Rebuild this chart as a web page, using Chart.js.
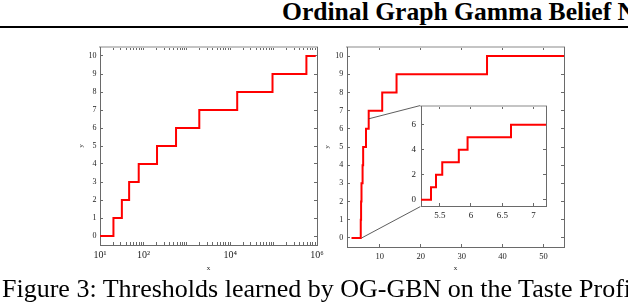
<!DOCTYPE html>
<html>
<head>
<meta charset="utf-8">
<script src="https://cdn.jsdelivr.net/npm/chart.js@4.4.1/dist/chart.umd.min.js"></script>
<style>
  html, body { margin:0; padding:0; background:#fff; }
  body { width:628px; height:304px; position:relative; overflow:hidden; font-family:"Liberation Serif", "Times New Roman", serif; }
  .abs { position:absolute; }
  #header { left:282px; top:-0.7px; font-weight:bold; font-size:25.6px; line-height:1; white-space:nowrap; color:#000; }
  #rule { left:0; top:26px; width:628px; height:2px; background:#000; }
  #caption { left:2px; top:275.5px; font-size:26px; line-height:1; white-space:nowrap; color:#000; }
  canvas { position:absolute; }
</style>
</head>
<body>
<div id="header" class="abs">Ordinal Graph Gamma Belief N</div>
<div id="rule" class="abs"></div>
<canvas id="leftChart" width="260" height="235" style="left:70px;top:40px"></canvas>
<canvas id="rightChart" width="260" height="235" style="left:315px;top:40px"></canvas>
<canvas id="insetChart" width="150" height="125" style="left:400px;top:100px"></canvas>
<div id="caption" class="abs">Figure 3: Thresholds learned by OG-GBN on the Taste Profi</div>
<script>
// ---------------- data ----------------
const levels = [0, 1, 2, 3, 4, 5, 6, 7, 8, 9, 10];
// left panel (log x): x where the level steps up to 1..10
const leftThresholds = [20.4, 31.9, 46.9, 78, 206, 565, 1940, 14500, 94400, 570000];
const leftStartEnd = [10, 935000];
// right panel (linear x)
const rightThresholds = [5.36, 5.44, 5.54, 5.805, 5.945, 6.64, 7.3, 10.6, 14.1, 36.2];
const rightStartEnd = [3.1, 55];
// tick labels
const leftXTickValues = [10, 100, 10000, 1000000];
const leftXTickLabels = ['10\u00B9', '10\u00B2', '10\u2074', '10\u2076'];
const yTickValues = [0, 1, 2, 3, 4, 5, 6, 7, 8, 9, 10];
const rightXTickValues = [10, 20, 30, 40, 50];
const insetXTickValues = [5.5, 6, 6.5, 7];
const insetXTickLabels = ['5.5', '6', '6.5', '7'];
const insetYTickValues = [0, 2, 4, 6];
// zoom connector lines (right panel data units)
const connectorLower = [[5.6, 0], [19.9, 1.72]];
const connectorUpper = [[7.3, 6.55], [19.9, 7.28]];

// ---------------- helpers ----------------
const FONT = '"Liberation Serif", "Times New Roman", serif';
const AXIS_COLOR = '#6a6a6a';
const TOP_COLOR = '#c4c4c4';

function stepPoints(startEnd, thresholds) {
  const pts = [{ x: startEnd[0], y: levels[0] }];
  thresholds.forEach((t, i) => pts.push({ x: t, y: levels[i + 1] }));
  pts.push({ x: startEnd[1], y: levels[levels.length - 1] });
  return pts;
}
function logMinorTicks(min, max) {
  const out = [];
  for (let e = Math.round(Math.log10(min)); e < Math.round(Math.log10(max)); e++) {
    for (let m = 1; m < 10; m++) out.push(m * Math.pow(10, e));
  }
  out.push(max);
  return out;
}
function axis(o) {
  const ticks = {
    display: !!o.labels, autoSkip: false, maxRotation: 0, minRotation: 0,
    padding: o.pad || 0, color: '#222', font: { size: o.fontSize || 8, family: FONT }
  };
  if (o.labels) ticks.callback = o.labels;
  return {
    type: o.type || 'linear',
    position: o.position,
    min: o.min, max: o.max,
    afterBuildTicks: s => { s.ticks = o.ticks.map(v => ({ value: v })); },
    afterFit: s => {
      if (s.isHorizontal()) s.height = o.size; else s.width = o.size;
      s.paddingLeft = 0; s.paddingRight = 0; s.paddingTop = 0; s.paddingBottom = 0;
    },
    border: { display: true, color: o.borderColor || AXIS_COLOR, width: o.borderWidth || 1 },
    grid: { display: true, drawOnChartArea: false, drawTicks: true, tickLength: -(o.tickLen || 3), color: AXIS_COLOR, lineWidth: 1 },
    ticks: ticks,
    title: o.title
      ? { display: true, text: o.title, color: '#222', font: { size: 7, family: FONT }, padding: o.titlePad }
      : { display: false }
  };
}
function lineDS(points, color, width) {
  return {
    data: points, borderColor: color, borderWidth: width, fill: false,
    pointRadius: 0, borderJoinStyle: 'miter', borderCapStyle: 'butt', xAxisID: 'x', yAxisID: 'y'
  };
}
function stepDS(points) {
  const d = lineDS(points, '#ff0000', 2);
  d.stepped = true;
  return d;
}
function baseOptions(scales) {
  return {
    responsive: false, animation: false, devicePixelRatio: 1,
    layout: { padding: 0 },
    plugins: { legend: { display: false }, tooltip: { enabled: false } },
    scales: scales
  };
}
const labelFrom = (vals, labs) => (v) => { const i = vals.indexOf(v); return i >= 0 ? labs[i] : ''; };
const plainLabel = (vals) => (v) => (vals.indexOf(v) >= 0 ? String(v) : '');

// ---------------- left chart ----------------
const leftLogTicks = logMinorTicks(10, 1000000);
new Chart(document.getElementById('leftChart'), {
  type: 'line',
  data: { datasets: [stepDS(stepPoints(leftStartEnd, leftThresholds))] },
  options: baseOptions({
    x: axis({ type: 'logarithmic', position: 'bottom', min: 10, max: 1000000, ticks: leftLogTicks,
      labels: labelFrom(leftXTickValues, leftXTickLabels), size: 30, pad: 7, fontSize: 10,
      title: 'x', titlePad: { top: 0, bottom: 2.5 } }),
    x2: axis({ type: 'logarithmic', position: 'top', min: 10, max: 1000000, ticks: leftLogTicks,
      size: 7, borderColor: TOP_COLOR, borderWidth: 2 }),
    y: axis({ position: 'left', min: -0.5, max: 10.5, ticks: yTickValues, labels: plainLabel(yTickValues),
      size: 30, pad: 6.5, fontSize: 8, title: 'y', titlePad: { top: 6.8, bottom: 0 } }),
    y2: axis({ position: 'right', min: -0.5, max: 10.5, ticks: yTickValues, size: 13 })
  })
});

// ---------------- right chart ----------------
const toXY = arr => arr.map(p => ({ x: p[0], y: p[1] }));
new Chart(document.getElementById('rightChart'), {
  type: 'line',
  data: { datasets: [
    lineDS(toXY(connectorLower), '#333', 0.8),
    lineDS(toXY(connectorUpper), '#333', 0.8),
    stepDS(stepPoints(rightStartEnd, rightThresholds))
  ] },
  options: baseOptions({
    x: axis({ position: 'bottom', min: 2, max: 55, ticks: rightXTickValues, labels: plainLabel(rightXTickValues),
      size: 28, pad: 7.2, fontSize: 8.5, title: 'x', titlePad: { top: 0, bottom: 2.5 } }),
    x2: axis({ position: 'top', min: 2, max: 55, ticks: rightXTickValues, size: 7, borderColor: TOP_COLOR, borderWidth: 2 }),
    y: axis({ position: 'left', min: -0.5, max: 10.5, ticks: yTickValues, labels: plainLabel(yTickValues),
      size: 32, pad: 6.7, fontSize: 8, title: 'y', titlePad: { top: 7.5, bottom: 0 } }),
    y2: axis({ position: 'right', min: -0.5, max: 10.5, ticks: yTickValues, size: 11 })
  })
});

// ---------------- inset ----------------
new Chart(document.getElementById('insetChart'), {
  type: 'line',
  data: { datasets: [stepDS(stepPoints(rightStartEnd, rightThresholds))] },
  options: baseOptions({
    x: axis({ position: 'bottom', min: 5.2, max: 7.2, ticks: insetXTickValues, labels: labelFrom(insetXTickValues, insetXTickLabels),
      size: 19, pad: 6.9, fontSize: 9 }),
    x2: axis({ position: 'top', min: 5.2, max: 7.2, ticks: insetXTickValues, size: 6, borderColor: TOP_COLOR, borderWidth: 2 }),
    y: axis({ position: 'left', min: -0.5, max: 7.5, ticks: insetYTickValues, labels: plainLabel(insetYTickValues),
      size: 21, pad: 8, fontSize: 9 }),
    y2: axis({ position: 'right', min: -0.5, max: 7.5, ticks: insetYTickValues, size: 4 })
  })
});
</script>
</body>
</html>
